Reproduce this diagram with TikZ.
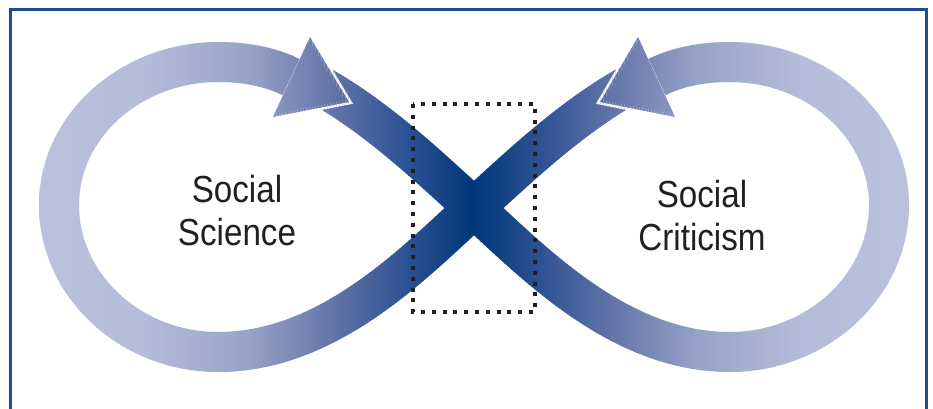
\documentclass[tikz,border=0pt]{standalone}
\usepackage{fontspec}
\newfontfamily\lblfont[FakeStretch=0.88]{Liberation Sans}

\definecolor{frameblue}{RGB}{28,78,140}
\definecolor{inkgray}{RGB}{35,31,32}
\definecolor{bandfill}{RGB}{0,56,122}

% colour of the band as a function of the horizontal position:
% darkest at the crossing, lightening towards both outer ends
\newcommand\bandcolorat[1]{%
  \pgfmathsetmacro\bndD{abs(#1-474)}%
  \ifdim\bndD pt<74pt
    \def\bndLo{0}\def\bndHi{74}%
    \def\bndRa{0}\def\bndGa{56}\def\bndBa{122}\def\bndRb{50}\def\bndGb{85}\def\bndBb{150}%
  \else\ifdim\bndD pt<144pt
    \def\bndLo{74}\def\bndHi{144}%
    \def\bndRa{50}\def\bndGa{85}\def\bndBa{150}\def\bndRb{102}\def\bndGb{119}\def\bndBb{170}%
  \else\ifdim\bndD pt<224pt
    \def\bndLo{144}\def\bndHi{224}%
    \def\bndRa{102}\def\bndGa{119}\def\bndBa{170}\def\bndRb{152}\def\bndGb{163}\def\bndBb{200}%
  \else\ifdim\bndD pt<324pt
    \def\bndLo{224}\def\bndHi{324}%
    \def\bndRa{152}\def\bndGa{163}\def\bndBa{200}\def\bndRb{180}\def\bndGb{188}\def\bndBb{217}%
  \else
    \def\bndLo{324}\def\bndHi{436}%
    \def\bndRa{180}\def\bndGa{188}\def\bndBa{217}\def\bndRb{187}\def\bndGb{194}\def\bndBb{221}%
  \fi\fi\fi\fi
  \pgfmathsetmacro\bndT{min(1,(\bndD-\bndLo)/(\bndHi-\bndLo))}%
  \pgfmathtruncatemacro\bndR{\bndRa+(\bndRb-\bndRa)*\bndT}%
  \pgfmathtruncatemacro\bndG{\bndGa+(\bndGb-\bndGa)*\bndT}%
  \pgfmathtruncatemacro\bndB{\bndBa+(\bndBb-\bndBa)*\bndT}%
  \definecolor{bandfill}{RGB}{\bndR,\bndG,\bndB}%
}

\tikzset{
  bandstroke/.style={draw=bandfill, line width=40pt, line cap=butt},
  tipedge/.style={draw=white, line width=5pt, line join=miter},
  focusbox/.style={draw=inkgray, line width=4pt, dash pattern=on 4pt off 6.8pt},
  framestyle/.style={draw=frameblue, line width=3pt},
  lbl/.style={font=\lblfont\fontsize{37.7}{42.5}\selectfont, text=inkgray,
              align=center, inner sep=0pt}
}

% the two halves of the figure eight
\newcommand\bandbody{%
  % from the left arrow, through the crossing, round the right loop
  \draw[bandstroke] (310,80) .. controls (372,113) and (424,162) .. (474,208)
    .. controls (535,264) and (620,352) .. (730,352)
    .. controls (817,352) and (889,286) .. (889,205)
    .. controls (889,126) and (817,62) .. (730,62)
    .. controls (705,62) and (679.5,66) .. (657,77);
  % from the right arrow, through the crossing, round the left loop
  \draw[bandstroke] (638,80) .. controls (576,113) and (524,162) .. (474,208)
    .. controls (413,264) and (328,352) .. (218,352)
    .. controls (131,352) and (59,286) .. (59,205)
    .. controls (59,126) and (131,62) .. (218,62)
    .. controls (243,62) and (268.5,66) .. (291,77);
}
% arrow heads, set off from the band below by a white edge
\newcommand\arrowtips{%
  \draw[tipedge] (310,37) -- (349,102) -- (273,117);
  \fill[bandfill] (310,37) -- (349,102) -- (273,117) -- cycle;
  \draw[tipedge] (638,37) -- (600,102) -- (675,117);
  \fill[bandfill] (638,37) -- (600,102) -- (675,117) -- cycle;
}

\begin{document}
\begin{tikzpicture}[x=1pt, y=-1pt]
  \useasboundingbox (0,0) rectangle (933,408);
  \fill[white] (0,0) rectangle (933,408);

  % outer frame (its lower edge runs off the page)
  \draw[framestyle] (10,420) |- (926,9) -- (926,420);

  % shaded figure eight, painted in thin vertical strips
  \foreach \sx in {28,31,...,922}{%
    \bandcolorat{\sx+1.5}%
    \begin{scope}
      \clip (\sx-0.6,0) rectangle (\sx+3,408);
      \bandbody
      \arrowtips
    \end{scope}
  }

  % dotted box round the crossing
  \coordinate (cross) at (474,208);
  \draw[focusbox] (413,104) rectangle (535,312);

  % labels (anchored on the baseline of their last line)
  \node[lbl, anchor=base] (science) at (237,245) {Social\\Science};
  \node[lbl, anchor=base] (criticism) at (702,250) {Social\\Criticism};
\end{tikzpicture}
\end{document}
